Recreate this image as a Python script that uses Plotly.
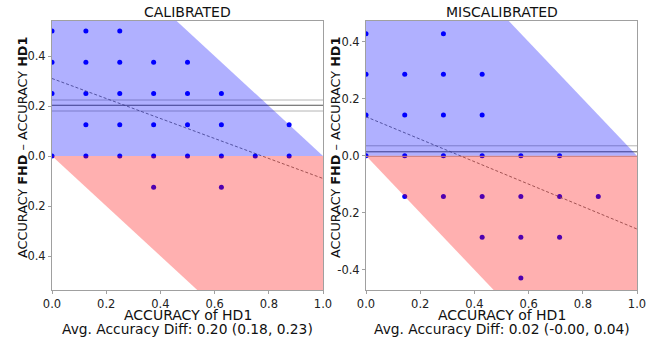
import plotly.graph_objects as go

# ---------------- data ----------------
panel_titles = ["CALIBRATED", "MISCALIBRATED"]
diff_labels = ["Avg. Accuracy Diff: 0.20 (0.18, 0.23)",
               "Avg. Accuracy Diff: 0.02 (-0.00, 0.04)"]

cal_x = [0, 0.125, 0.25,
         0, 0.125, 0.25, 0.375, 0.5,
         0, 0.125, 0.25, 0.375, 0.5, 0.625,
         0.125, 0.25, 0.375, 0.5, 0.625, 0.875,
         0, 0.125, 0.25, 0.375, 0.5, 0.625, 0.75, 0.875,
         0.375, 0.625]
cal_y = [0.5, 0.5, 0.5,
         0.375, 0.375, 0.375, 0.375, 0.375,
         0.25, 0.25, 0.25, 0.25, 0.25, 0.25,
         0.125, 0.125, 0.125, 0.125, 0.125, 0.125,
         0, 0, 0, 0, 0, 0, 0, 0,
         -0.125, -0.125]

mis_x = [0, 0.2857,
         0, 0.1429, 0.2857, 0.4286,
         0, 0.1429, 0.2857, 0.4286,
         0, 0.1429, 0.2857, 0.4286, 0.5714, 0.7143,
         0.1429, 0.2857, 0.4286, 0.5714, 0.7143, 0.8571,
         0.4286, 0.5714, 0.7143,
         0.5714]
mis_y = [0.4286, 0.4286,
         0.2857, 0.2857, 0.2857, 0.2857,
         0.1429, 0.1429, 0.1429, 0.1429,
         0, 0, 0, 0, 0, 0,
         -0.1429, -0.1429, -0.1429, -0.1429, -0.1429, -0.1429,
         -0.2857, -0.2857, -0.2857,
         -0.4286]

# mean and CI of accuracy difference
cal_stats = [0.203, 0.180, 0.224]   # mean, low, high
mis_stats = [0.014, -0.002, 0.035]

# regression line endpoints
reg_x = [0, 1]
cal_reg_y = [0.31, -0.09]
mis_reg_y = [0.137, -0.257]

y_ranges = [[-0.536, 0.54], [-0.471, 0.473]]
x_ticks = [0, 0.2, 0.4, 0.6, 0.8, 1.0]
x_ticktext = ["0.0", "0.2", "0.4", "0.6", "0.8", "1.0"]
y_ticks = [-0.4, -0.2, 0, 0.2, 0.4]
y_ticktext = ["-0.4", "-0.2", "0.0", "0.2", "0.4"]

# ---------------- layout helpers ----------------
W, H = 668, 345
FONT = "DejaVu Sans"
panels_px = [(52, 323), (366, 637)]
top_px, bot_px = 21, 290

fig = go.Figure()

datasets = [(cal_x, cal_y, cal_stats, cal_reg_y), (mis_x, mis_y, mis_stats, mis_reg_y)]
for i, (px, py, stats, regy) in enumerate(datasets):
    xa = "x" if i == 0 else "x2"
    ya = "y" if i == 0 else "y2"
    lo_y, hi_y = y_ranges[i]
    # points
    fig.add_trace(go.Scatter(x=px, y=py, mode="markers", xaxis=xa, yaxis=ya,
                             marker=dict(color="#0000ff", size=5), showlegend=False,
                             hoverinfo="skip"))
    # mean / CI lines
    for j, v in enumerate(stats):
        fig.add_trace(go.Scatter(x=[0, 1], y=[v, v], mode="lines", xaxis=xa, yaxis=ya,
                                 line=dict(color="#555555" if j == 0 else "#b4b4b4", width=1),
                                 showlegend=False, hoverinfo="skip"))
    # regression line
    fig.add_trace(go.Scatter(x=reg_x, y=regy, mode="lines", xaxis=xa, yaxis=ya,
                             line=dict(color="#555555", width=0.8, dash="3px,2px"),
                             showlegend=False, hoverinfo="skip"))
    # feasible regions: 0 <= y <= 1 - x (blue) and -x <= y <= 0 (red)
    fig.add_trace(go.Scatter(x=[0, 0, 1 - hi_y, 1, 0], y=[0, hi_y, hi_y, 0, 0],
                             fill="toself", mode="none", xaxis=xa, yaxis=ya,
                             fillcolor="rgba(0,0,255,0.31)", showlegend=False,
                             hoverinfo="skip"))
    fig.add_trace(go.Scatter(x=[0, 1, 1, -lo_y, 0], y=[0, 0, lo_y, lo_y, 0],
                             fill="toself", mode="none", xaxis=xa, yaxis=ya,
                             fillcolor="rgba(255,0,0,0.31)", showlegend=False,
                             hoverinfo="skip"))

axis_common = dict(showgrid=False, zeroline=False, showline=True, mirror=True,
                   linecolor="#a0a0a0", linewidth=1, ticks="outside", ticklen=3,
                   tickcolor="#a0a0a0", automargin=False,
                   tickfont=dict(family=FONT, size=11.5, color="#222"))

annotations = []
for i in range(2):
    x0, x1 = panels_px[i]
    xd = [x0 / W, x1 / W]
    yd = [(H - bot_px) / H, (H - top_px) / H]
    xname = "xaxis" if i == 0 else "xaxis2"
    yname = "yaxis" if i == 0 else "yaxis2"
    fig.update_layout(**{
        xname: dict(domain=xd, range=[0, 1], tickvals=x_ticks, ticktext=x_ticktext,
                    anchor="y" if i == 0 else "y2", **axis_common),
        yname: dict(domain=yd, range=y_ranges[i], tickvals=y_ticks, ticktext=y_ticktext,
                    anchor="x" if i == 0 else "x2", **axis_common),
    })
    cx = (x0 + x1) / 2 / W
    annotations.append(dict(text=panel_titles[i], x=cx, y=(H - 12) / H, xref="paper", yref="paper",
                            xanchor="center", yanchor="middle", showarrow=False,
                            font=dict(family=FONT, size=14, color="#111")))
    annotations.append(dict(text="ACCURACY of HD1", x=cx, y=(H - 315) / H, xref="paper", yref="paper",
                            xanchor="center", yanchor="middle", showarrow=False,
                            font=dict(family=FONT, size=14, color="#111")))
    annotations.append(dict(text=diff_labels[i], x=cx, y=(H - 329) / H, xref="paper", yref="paper",
                            xanchor="center", yanchor="middle", showarrow=False,
                            font=dict(family=FONT, size=13.8, color="#111")))
    ty_x = (22 if i == 0 else 335) / W
    annotations.append(dict(text="ACCURACY <b>FHD</b> – ACCURACY <b>HD1</b>", textangle=-90,
                            x=ty_x, y=(H - 148) / H, xref="paper", yref="paper",
                            xanchor="center", yanchor="middle", showarrow=False,
                            font=dict(family=FONT, size=12.8, color="#111")))

fig.update_layout(width=W, height=H, margin=dict(l=0, r=0, t=0, b=0),
                  paper_bgcolor="white", plot_bgcolor="white",
                  annotations=annotations, showlegend=False)

fig.write_html("out.html", config={"displayModeBar": False},
               post_script="document.body.style.margin='0';document.body.style.overflow='hidden';")
